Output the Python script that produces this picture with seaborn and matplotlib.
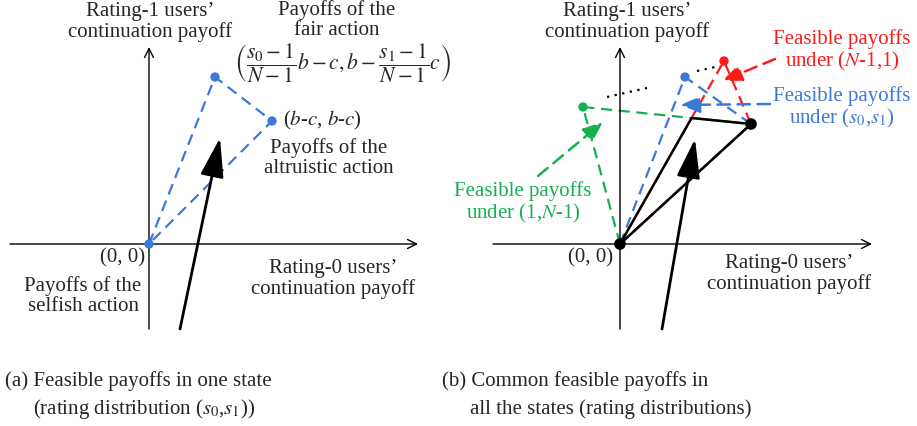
import numpy as np
import pandas as pd
import seaborn as sns
import matplotlib.pyplot as plt

sns.set_theme(style="white")
plt.rcParams['font.family'] = ['Liberation Serif', 'DejaVu Serif']
plt.rcParams['mathtext.fontset'] = 'stix'

# payoff points, (rating-0 payoff, rating-1 payoff), arbitrary units
# panel (a): one state
selfish_a = [0, 0]
fair_a = [66, 167]
altruistic_a = [123, 123]

# panel (b): fair-action payoffs under three rating distributions
fair_green = [-37, 137]    # (1, N-1)
fair_blue = [65, 167]      # (s0, s1)
fair_red = [104, 183]      # (N-1, 1)
altruistic_b = [131, 120]
origin = [0, 0]

BLUE = '#3b78d8'
RED = '#ff1a1a'
GREEN = '#16b050'
FS = 15
LS = 1.1

fig = plt.figure(figsize=(9.17, 4.27), dpi=100)
ax_a = fig.add_axes([0, 0, 458 / 917, 1])
ax_b = fig.add_axes([458 / 917, 0, 459 / 917, 1])
ax_a.set_xlim(-149, 309)
ax_b.set_xlim(-162, 297)
for ax in (ax_a, ax_b):
    ax.set_ylim(-182, 245)
    ax.axis('off')


def polygon(ax, pts, color, ls='--', lw=1.6):
    df = pd.DataFrame(pts, columns=['x', 'y'])
    sns.lineplot(data=df, x='x', y='y', sort=False, estimator=None, ax=ax,
                 color=color, lw=lw, linestyle=ls, legend=False)
    if ls == '--':
        ax.lines[-1].set_dashes((5, 3))


def axes_arrows(ax, xmin, xmax, ymin, ymax):
    kw = dict(arrowstyle='->', color='black', lw=1.0, mutation_scale=16,
              shrinkA=0, shrinkB=0)
    ax.annotate('', xy=(xmax, 0), xytext=(xmin, 0), arrowprops=kw)
    ax.annotate('', xy=(0, ymax), xytext=(0, ymin), arrowprops=kw)


def big_arrow(ax, start, tip):
    ax.annotate('', xy=tip, xytext=start,
                arrowprops=dict(arrowstyle='-|>,head_length=1.5,head_width=0.45',
                                color='black', lw=2.0, mutation_scale=16,
                                shrinkA=0, shrinkB=0))


def label_arrow(ax, start, tip, color):
    ax.annotate('', xy=tip, xytext=start,
                arrowprops=dict(arrowstyle='-|>,head_length=1.0,head_width=0.4',
                                color=color, lw=1.8, ls=(0, (5, 3)),
                                mutation_scale=12, shrinkA=0, shrinkB=0))


# ---------------- panel (a)
axes_arrows(ax_a, -139, 269, -85, 197)
polygon(ax_a, [selfish_a, fair_a, altruistic_a, selfish_a], BLUE)
pts = pd.DataFrame([selfish_a, fair_a, altruistic_a], columns=['x', 'y'])
sns.scatterplot(data=pts, x='x', y='y', ax=ax_a, color=BLUE, s=45,
                edgecolor='none', zorder=5)
big_arrow(ax_a, (31, -85), (71, 106))

ax_a.text(1, 223, "Rating-1 users\u2019\ncontinuation payoff", ha='center',
          va='center', fontsize=FS, linespacing=LS)
ax_a.text(188, 225, "Payoffs of the\nfair action", ha='center', va='center',
          fontsize=FS, linespacing=LS)
ax_a.text(194, 182,
          r'$\left(\dfrac{s_0-1}{N-1}b-c, b-\dfrac{s_1-1}{N-1}c\right)$',
          ha='center', va='center', fontsize=15.5)
ax_a.text(134, 125, r'($b$-$c$, $b$-$c$)', ha='left', va='center', fontsize=FS)
ax_a.text(180, 87, "Payoffs of the\naltruistic action", ha='center',
          va='center', fontsize=FS, linespacing=LS)
ax_a.text(-4, -13, '(0, 0)', ha='right', va='center', fontsize=FS)
ax_a.text(-66, -51, "Payoffs of the\nselfish action", ha='center',
          va='center', fontsize=FS, linespacing=LS)
ax_a.text(184, -34, "Rating-0 users\u2019\ncontinuation payoff", ha='center',
          va='center', fontsize=FS, linespacing=LS)

# ---------------- panel (b)
axes_arrows(ax_b, -127, 252, -85, 197)


def intersect(p1, p2, p3, p4):
    # intersection of line p1-p2 with line p3-p4
    a = np.array([[p2[0] - p1[0], p3[0] - p4[0]], [p2[1] - p1[1], p3[1] - p4[1]]])
    t = np.linalg.solve(a, np.array(p3) - np.array(p1))[0]
    return list(np.array(p1) + t * (np.array(p2) - np.array(p1)))


common = intersect(origin, fair_red, fair_green, altruistic_b)

polygon(ax_b, [origin, fair_blue, altruistic_b, origin], BLUE)
polygon(ax_b, [origin, fair_red, altruistic_b, origin], RED)
polygon(ax_b, [origin, fair_green, common], GREEN)
polygon(ax_b, [common, altruistic_b], GREEN, ls='-')
polygon(ax_b, [origin, common, altruistic_b, origin], 'black', ls='-', lw=1.8)

ax_b.plot([-13, 27], [147, 156], color='black', lw=1.6, ls=(0, (1, 2.5)))
ax_b.plot([77, 100], [173, 178], color='black', lw=1.6, ls=(0, (1, 2.5)))

for p, c in [(fair_green, GREEN), (fair_blue, BLUE), (fair_red, RED)]:
    sns.scatterplot(x=[p[0]], y=[p[1]], ax=ax_b, color=c, s=45,
                    edgecolor='none', zorder=5)
blk = pd.DataFrame([origin, altruistic_b], columns=['x', 'y'])
sns.scatterplot(data=blk, x='x', y='y', ax=ax_b, color='black', s=70,
                edgecolor='none', zorder=6)

label_arrow(ax_b, (155, 185), (102, 163), RED)
label_arrow(ax_b, (150, 140), (60, 139), BLUE)
label_arrow(ax_b, (-82, 68), (-17, 122), GREEN)
big_arrow(ax_b, (42, -85), (75, 105))

ax_b.text(7, 223, "Rating-1 users\u2019\ncontinuation payoff", ha='center',
          va='center', fontsize=FS, linespacing=LS)
ax_b.text(222, 194, "Feasible payoffs\nunder ($N$-1,1)", ha='center',
          va='center', fontsize=FS, linespacing=LS, color=RED)
ax_b.text(222, 137, "Feasible payoffs\nunder ($s_0$,$s_1$)", ha='center',
          va='center', fontsize=FS, linespacing=LS, color=BLUE)
ax_b.text(-97, 42, "Feasible payoffs\nunder (1,$N$-1)", ha='center',
          va='center', fontsize=FS, linespacing=LS, color=GREEN)
ax_b.text(-7, -13, '(0, 0)', ha='right', va='center', fontsize=FS)
ax_b.text(169, -29, "Rating-0 users\u2019\ncontinuation payoff", ha='center',
          va='center', fontsize=FS, linespacing=LS)

# ---------------- captions
CFS = 15
fig.text(5 / 917, 1 - 381 / 427, '(a) Feasible payoffs in one state',
         ha='left', va='center', fontsize=CFS)
fig.text(33 / 917, 1 - 409 / 427, '(rating distribution ($s_0$,$s_1$))',
         ha='left', va='center', fontsize=CFS)
fig.text(442 / 917, 1 - 381 / 427, '(b) Common feasible payoffs in',
         ha='left', va='center', fontsize=CFS)
fig.text(470 / 917, 1 - 409 / 427, 'all the states (rating distributions)',
         ha='left', va='center', fontsize=CFS)

fig.savefig('out.png', dpi=100)
